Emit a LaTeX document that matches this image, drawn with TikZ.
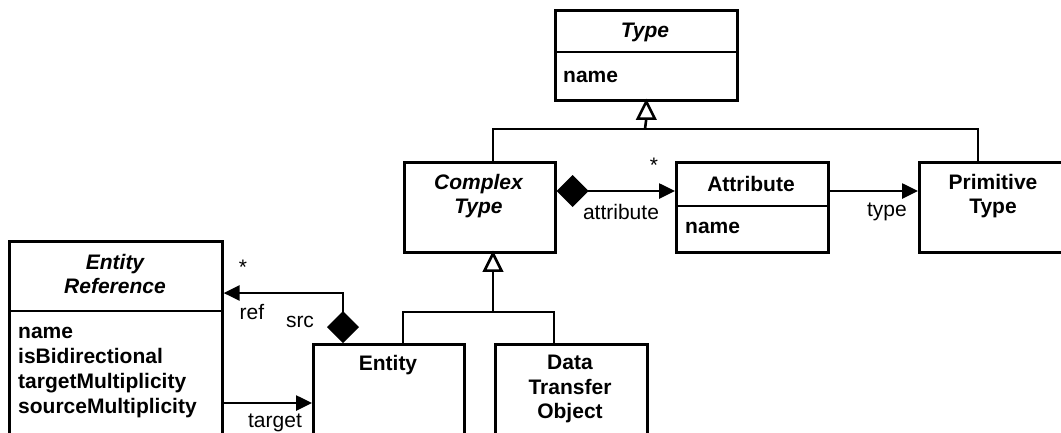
\documentclass[tikz,border=0pt]{standalone}
\usepackage{fontspec}
\setmainfont{Liberation Sans}
\usetikzlibrary{arrows.meta,calc}
\begin{document}
\begin{tikzpicture}[x=1pt,y=-1pt,
  every node/.style={font=\fontsize{21}{24.5}\selectfont, inner sep=0pt},
  frame/.style={line width=2.6pt},
  cls/.style={frame, draw, fill=white, anchor=north west},
  title/.style={font=\fontsize{21}{24.5}\selectfont\bfseries, align=center},
  abstract/.style={font=\fontsize{21}{24.5}\selectfont\bfseries\itshape, align=center},
  attrs/.style={font=\fontsize{21}{25}\selectfont\bfseries, align=left, anchor=west},
  lbl/.style={font=\fontsize{21}{24.5}\selectfont},
  assoc/.style={frame, -{Triangle[length=16pt,width=15pt]}},
  comp/.style={frame, {Diamond[length=32pt,width=32pt]}-{Triangle[length=16pt,width=15pt]}},
  hollow/.style={frame, fill=white, line join=miter},
  line join=miter]
\useasboundingbox (0,0) rectangle (1061,432);
\clip (0,0) rectangle (1061,432);
\fill[white] (0,0) rectangle (1061,432);

% classes
\node[cls, minimum width=182pt, minimum height=90pt] (type) at (554,9) {};
\draw[frame] (554,52) -- (736,52);
\node[abstract] (typeT) at (645,32) {Type};
\node[attrs] (typeA) at (563,77) {name};

\node[cls, minimum width=151pt, minimum height=90pt] (ctype) at (403,161) {};
\node[abstract] (ctypeT) at (478.5,196) {Complex\\Type};

\node[cls, minimum width=152pt, minimum height=90pt] (attr) at (675,161) {};
\draw[frame] (675,206) -- (827,206);
\node[title] (attrT) at (751,184) {Attribute};
\node[attrs] (attrA) at (685,228) {name};

\node[cls, minimum width=150pt, minimum height=90pt] (prim) at (918,161) {};
\node[title] (primT) at (993,196) {Primitive\\Type};

\node[cls, minimum width=213pt, minimum height=210pt] (eref) at (8,240) {};
\draw[frame] (8,311) -- (221,311);
\node[abstract] (erefT) at (115,274) {Entity\\Reference};
\node[attrs] (erefA) at (18,373) {name\\isBidirectional\\targetMultiplicity\\sourceMultiplicity};

\node[cls, minimum width=151pt, minimum height=107pt] (entity) at (312,343) {};
\node[title] (entityT) at (388,365) {Entity};

\node[cls, minimum width=152pt, minimum height=107pt] (dto) at (494,343) {};
\node[title] (dtoT) at (570,389) {Data\\Transfer\\Object};

% generalisations: ComplexType and PrimitiveType extend Type
\coordinate (g1) at (645,129);
\draw[frame] (ctype.north -| 493,0) |- (g1) -| (prim.north -| 978,0);
\draw[frame] (g1) -- ($(type.south)+(0,17)$);
\draw[hollow] (type.south) -- ++(-8.5,17) -- ++(17,0) -- cycle;

% generalisations: Entity and DataTransferObject extend ComplexType
\coordinate (g2) at (493,312);
\coordinate (g2tip) at (ctype.south -| g2);
\draw[frame] (entity.north -| 403,0) |- (g2) -| (dto.north -| 554,0);
\draw[frame] (g2) -- ($(g2tip)+(0,17)$);
\draw[hollow] (g2tip) -- ++(-8.5,17) -- ++(17,0) -- cycle;

% associations
\draw[comp] (ctype.east |- 0,191) -- (attr.west |- 0,191);
\draw[assoc] (attr.east |- 0,191) -- (prim.west |- 0,191);
\draw[comp] (entity.north -| 343,0) |- (eref.east |- 0,293);
\draw[assoc] (eref.east |- 0,403) -- (entity.west |- 0,403);

% role names and multiplicities
\node[lbl] (m1) at (654,165) {*};
\node[lbl] (r1) at (621,212) {attribute};
\node[lbl] (r2) at (887,212) {type};
\node[lbl] (m2) at (243,267) {*};
\node[lbl] (r3) at (252,312) {ref};
\node[lbl] (r4) at (300,322) {src};
\node[lbl] (r5) at (275,423) {target};
\end{tikzpicture}
\end{document}
